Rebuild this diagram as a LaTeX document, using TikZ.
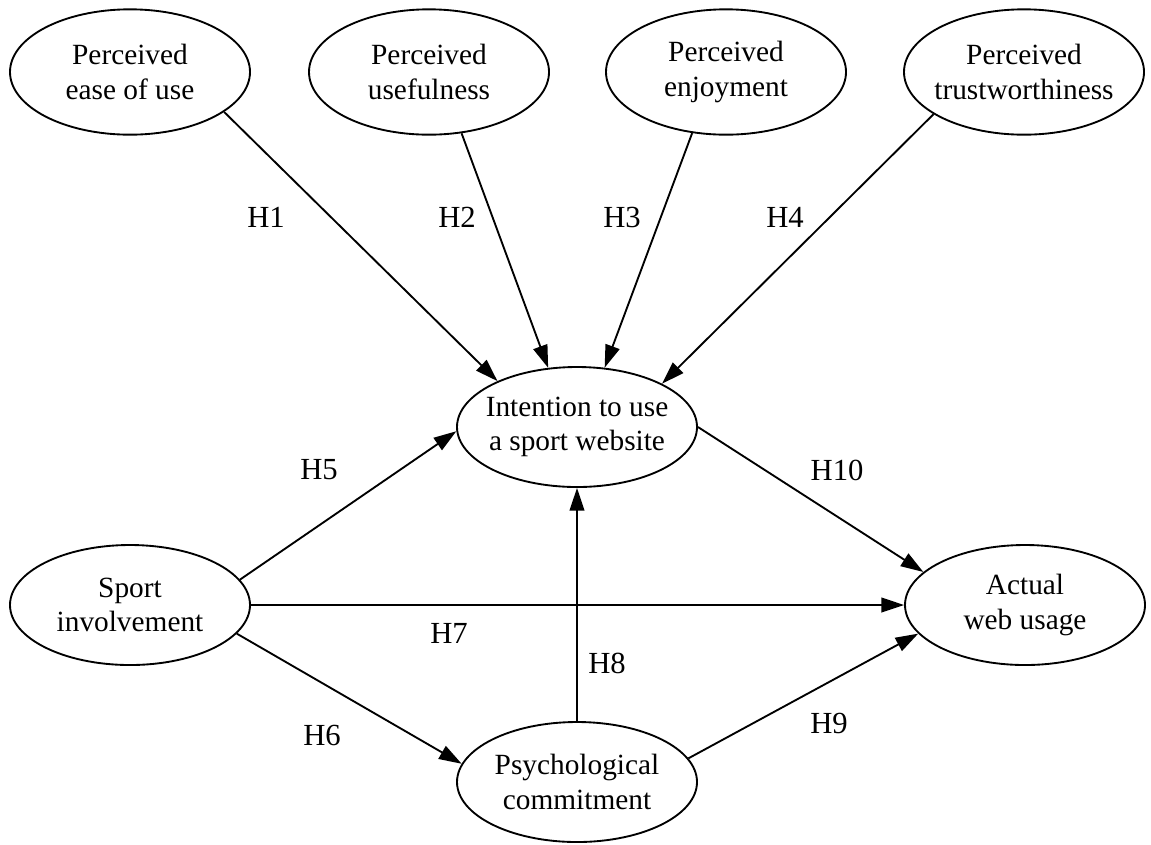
\documentclass[tikz,border=0pt]{standalone}
\usepackage{fontspec}
\setmainfont{Liberation Serif}
\usetikzlibrary{arrows.meta,shapes.geometric}
\begin{document}
\begin{tikzpicture}[x=0.75pt,y=-0.75pt,
  construct/.style={draw, line width=1.4pt, ellipse, minimum width=180pt,
    minimum height=90pt, inner xsep=-10pt, inner ysep=0pt, align=center,
    font=\fontsize{22}{26}\selectfont},
  topconstruct/.style={construct, minimum height=94pt},
  link/.style={line width=1.4pt, -{Triangle[length=17pt,width=11pt]}},
  hyp/.style={font=\fontsize{23}{27}\selectfont}
]
\useasboundingbox (0,0) rectangle (1151,844);

% antecedent constructs
\node[topconstruct] (peou) at (130,72)  {Perceived\\ease of use};
\node[topconstruct] (pu)   at (429,72)  {Perceived\\usefulness};
\node[topconstruct] (pe)   at (726,72)  {Perceived\\enjoyment};
\node[topconstruct] (pt)   at (1024,72) {Perceived\\trustworthiness};

% central and outcome constructs
\node[construct] (iu) at (577,427) {Intention to use\\a sport website};
\node[construct] (si) at (130,605) {Sport\\involvement};
\node[construct] (aw) at (1025,605) {Actual\\web usage};
\node[construct] (pc) at (577,782) {Psychological\\commitment};

% hypothesised paths
\draw[link] (peou.-23.5) -- (iu.150);
\draw[link] (pu.-62) -- (iu.116);
\draw[link] (pe.-119) -- (iu.65);
\draw[link] (pt.-155) -- (iu.27);
\draw[link] (si.13.5) -- (iu.182);
\draw[link] (si.-15) -- (pc.171.6);
\draw[link] (si.east) -- (aw.west);
\draw[link] (pc.north) -- (iu.south);
\draw[link] (iu.east) -- (aw.162);
\draw[link] (pc.12.7) -- (aw.-165);

% hypothesis labels
\node[hyp] (h1)  at (266,217) {H1};
\node[hyp] (h2)  at (457,217) {H2};
\node[hyp] (h3)  at (622,217) {H3};
\node[hyp] (h4)  at (785,217) {H4};
\node[hyp] (h5)  at (319,470) {H5};
\node[hyp] (h10) at (837,470) {H10};
\node[hyp] (h7)  at (449,633) {H7};
\node[hyp] (h8)  at (607,663) {H8};
\node[hyp] (h6)  at (322,735) {H6};
\node[hyp] (h9)  at (829,723) {H9};
\end{tikzpicture}
\end{document}
